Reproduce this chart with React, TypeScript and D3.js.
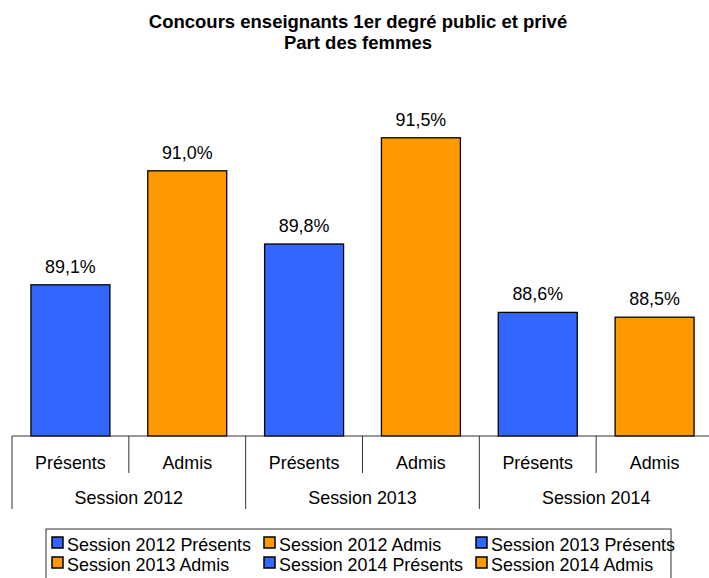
import * as React from 'react';
import {scaleBand, scaleLinear} from 'd3';

const sessions = ['Session 2012', 'Session 2013', 'Session 2014'];
const groups = ['Présents', 'Admis'];
// part des femmes (%), order: 2012 Présents, 2012 Admis, 2013 Présents, ...
const values = [89.08, 90.98, 89.76, 91.53, 88.62, 88.54];
const groupColors = ['#3366FF', '#FF9900'];

const titleLines = ['Concours enseignants 1er degré public et privé', 'Part des femmes'];

const W = 709;
const H = 578;
const plot = {left: 12, right: 713, bottom: 436};
const font = '"Liberation Sans", Arial, sans-serif';
const fs = 17.9;

const keys = sessions.flatMap(s => groups.map(g => `${s}|${g}`));

const xScale = scaleBand<string>()
    .domain(keys)
    .range([plot.left, plot.right])
    .paddingInner(0.324)
    .paddingOuter(0.162);

const yScale = scaleLinear()
    .domain([86.56, 92])
    .range([plot.bottom, plot.bottom - 5.44 * 60]);

const fmt = (v: number) => v.toFixed(1).replace('.', ',') + '%';

const App = () => {
    const step = xScale.step();
    const edge = (i: number) => plot.left + i * step;

    const bars = keys.map((k, i) => {
        const x = xScale(k)!;
        const y = yScale(values[i]);
        return (
            <g key={k}>
                <rect x={x} y={y} width={xScale.bandwidth()} height={plot.bottom - y}
                      fill={groupColors[i % 2]} stroke="#000" strokeWidth={1.3}/>
                <text x={x + xScale.bandwidth() / 2} y={y - 12} textAnchor="middle"
                      fontSize={fs} fill="#000">{fmt(values[i])}</text>
            </g>
        );
    });

    const separators = keys.map((_, i) => i).concat([keys.length]).map(i => (
        <line key={'sep' + i} x1={edge(i)} x2={edge(i)} y1={plot.bottom}
              y2={i % 2 === 0 ? 509 : 473} stroke="#333" strokeWidth={1}/>
    ));

    const subLabels = keys.map((k, i) => (
        <text key={'sub' + k} x={xScale(k)! + xScale.bandwidth() / 2} y={469}
              textAnchor="middle" fontSize={fs}>{groups[i % 2]}</text>
    ));

    const sessionLabels = sessions.map((s, i) => (
        <text key={s} x={edge(i * 2 + 1)} y={504} textAnchor="middle" fontSize={fs}>{s}</text>
    ));

    const legendItems = keys.map((k, i) => {
        const col = i % 3;
        const row = Math.floor(i / 3);
        const lx = 52 + col * 212;
        const ly = 537 + row * 20;
        const [s, g] = k.split('|');
        return (
            <g key={'leg' + k}>
                <rect x={lx} y={ly} width={11} height={11} fill={groupColors[i % 2]}
                      stroke="#000" strokeWidth={1.5}/>
                <text x={lx + 15} y={ly + 14} fontSize={fs}>{s} {g}</text>
            </g>
        );
    });

    return (
        <svg width={W} height={H} style={{position: 'absolute', left: 0, top: 0, background: '#fff'}}
             fontFamily={font}>
            <rect width={W} height={H} fill="#fff"/>
            {titleLines.map((t, i) => (
                <text key={t} x={358} y={28 + i * 21} textAnchor="middle" fontWeight="bold"
                      fontSize={18.5}>{t}</text>
            ))}
            {bars}
            <line x1={plot.left} x2={W} y1={plot.bottom} y2={plot.bottom} stroke="#333" strokeWidth={1}/>
            {separators}
            {subLabels}
            {sessionLabels}
            <rect x={46} y={529} width={625} height={60} fill="none" stroke="#333" strokeWidth={1}/>
            {legendItems}
        </svg>
    );
};

export default App;
